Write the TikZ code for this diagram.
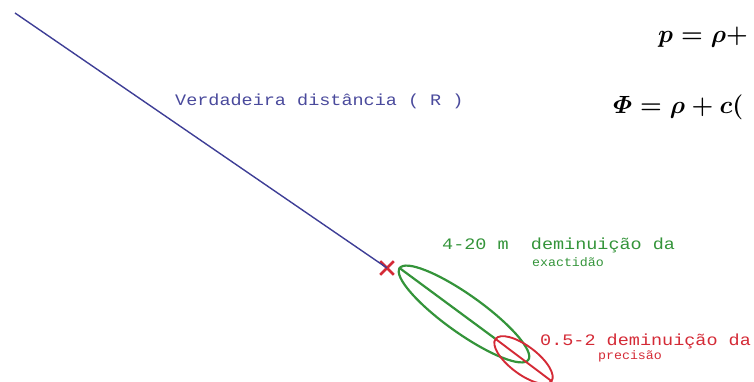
\documentclass[tikz,border=0pt]{standalone}
\usepackage{amsmath}
\usepackage{fontspec}
\newfontfamily\monofont{Liberation Mono}
\usetikzlibrary{shapes.geometric,shapes.misc}
\definecolor{lineblue}{HTML}{3E3E96}
\definecolor{txtblue}{HTML}{4A4A9C}
\definecolor{ellgreen}{HTML}{34943A}
\definecolor{ellred}{HTML}{D42A36}
\newcommand{\widetext}[1]{\scalebox{1.155}[1]{#1}}
\newcommand{\narrowtext}[1]{\scalebox{1.08}[1]{#1}}
\tikzset{
  bigmono/.style={inner sep=0pt, font=\monofont\fontsize{16}{18}\selectfont},
  smallmono/.style={inner sep=0pt, font=\monofont\fontsize{12.3}{14}\selectfont},
  eqtext/.style={inner sep=0pt, anchor=base west, font=\fontsize{31}{36}\selectfont\boldmath},
  ringstyle/.style={ellipse, draw, inner sep=0pt},
}
\begin{document}
\begin{tikzpicture}[x=1pt,y=-1pt]
\useasboundingbox (0,0) rectangle (754,382);
\node[eqtext] (f1) at (658,43) {\(p=\rho+\)};
\node[eqtext] (f2) at (613,114) {\(\varPhi=\rho+c(\)};
\coordinate (start) at (15,13);
\node[cross out, draw=ellred, line width=2.6pt, minimum size=11pt, inner sep=0pt] (xm) at (387,268) {};
\draw[lineblue, line width=1.4pt] (start) -- (xm.center);
\node[bigmono, text=txtblue, anchor=west] (lblR) at (175,101) {\widetext{Verdadeira distância ( R )}};
\node[ringstyle, draw=ellgreen, line width=2.2pt, minimum width=158pt, minimum height=38pt, rotate=-35.5] (gell) at (464,314) {};
\node[ringstyle, draw=ellred, line width=1.9pt, minimum width=70pt, minimum height=28pt, rotate=-37] (rell) at (523.5,360) {};
\draw[ellgreen, line width=2.2pt] (gell.west) -- (rell.west);
\draw[ellred, line width=1.9pt] (rell.west) -- (rell.east);
\node[bigmono, text=ellgreen, anchor=west] (lblG1) at (442,245) {\widetext{4-20 m\ \ deminuição da}};
\node[smallmono, text=ellgreen] (lblG2) at (568,262) {\narrowtext{exactidão}};
\node[bigmono, text=ellred, anchor=west] (lblR1) at (540,341) {\widetext{0.5-2 deminuição da}};
\node[smallmono, text=ellred] (lblR2) at (630,356) {\narrowtext{precisão}};
\end{tikzpicture}
\end{document}
